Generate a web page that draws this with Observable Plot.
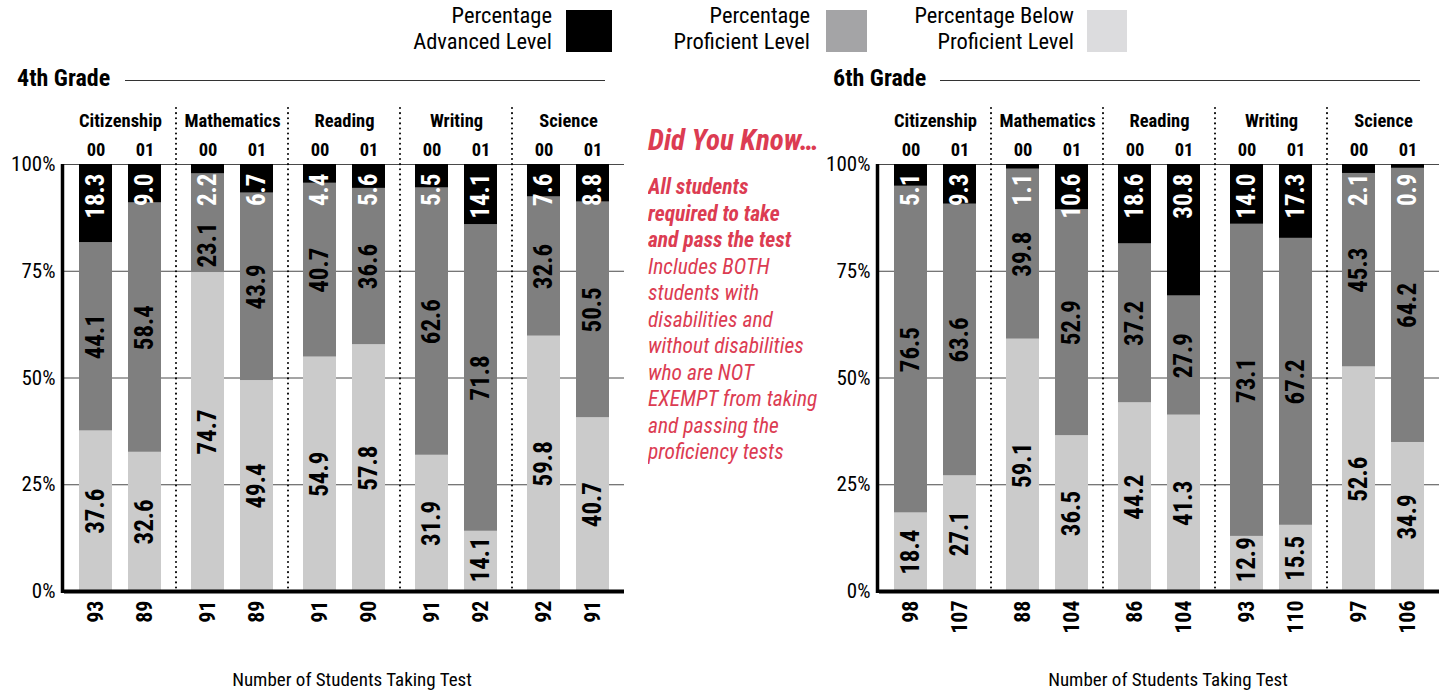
<!DOCTYPE html>
<html>
<head>
<meta charset="utf-8">
<script src="https://cdn.jsdelivr.net/npm/d3@7"></script>
<script src="https://cdn.jsdelivr.net/npm/@observablehq/plot@0.6"></script>
<style>
  html, body { margin: 0; padding: 0; background: #fff; }
  body { width: 1450px; height: 694px; overflow: hidden; position: relative;
         font-family: "Roboto Condensed", "Open Sans Condensed", "DejaVu Sans Condensed", sans-serif; color: #000; }
  .abs { position: absolute; }
  .leg { position: absolute; text-align: right; font-size: 22.5px; line-height: 26px; height: 26px; white-space: nowrap; }
  .sw { position: absolute; top: 10px; height: 42px; }
  .title { position: absolute; top: 64px; font-size: 24px; line-height: 28px; font-weight: bold; white-space: nowrap; }
  .tline { position: absolute; top: 80px; height: 1px; background: #333; }
  .red { color: #dc3c52; font-style: italic; white-space: nowrap; }
  .xlab { position: absolute; top: 668px; font-size: 19px; line-height: 24px; white-space: nowrap; transform: translateX(-50%); }
  .chart { position: absolute; top: 100px; }
</style>
</head>
<body>
<div class="leg" style="right:898px; top:2px;">Percentage</div>
<div class="leg" style="right:898px; top:28px;">Advanced Level</div>
<div class="sw" style="left:566px; width:46px; background:#000;"></div>
<div class="leg" style="right:640px; top:2px;">Percentage</div>
<div class="leg" style="right:640px; top:28px;">Proficient Level</div>
<div class="sw" style="left:826px; width:41px; background:#a4a4a6;"></div>
<div class="leg" style="right:376px; top:2px;">Percentage Below</div>
<div class="leg" style="right:376px; top:28px;">Proficient Level</div>
<div class="sw" style="left:1087px; width:40px; background:#dcdcde;"></div>

<div class="title" style="left:17px;">4th Grade</div>
<div class="tline" style="left:125px; width:480px;"></div>
<div class="title" style="left:833px;">6th Grade</div>
<div class="tline" style="left:940px; width:480px;"></div>

<div class="abs red" style="left:648px; top:122px; font-size:29px; line-height:36px; font-weight:bold;">Did You Know…</div>
<div class="abs red" style="left:648px; top:174px; width:174px; overflow:hidden; font-size:21.5px; line-height:26.5px;">
  <b>All students</b><br><b>required to take</b><br><b>and pass the test</b><br>Includes BOTH<br>students with<br>disabilities and<br>without disabilities<br>who are NOT<br>EXEMPT from taking<br>and passing the<br>proficiency tests
</div>

<div id="c4" class="chart" style="left:0px;"></div>
<div id="c6" class="chart" style="left:815px;"></div>

<div class="xlab" style="left:352px;">Number of Students Taking Test</div>
<div class="xlab" style="left:1168px;">Number of Students Taking Test</div>

<script>
const subjects = ["Citizenship", "Mathematics", "Reading", "Writing", "Science"];
const years = ["00", "01"];
const levels = ["Below Proficient", "Proficient", "Advanced"];
const levelColors = ["#cbcbcb", "#7f7f7f", "#000000"];
const yTicks = [0, 25, 50, 75, 100];

// 4th grade, order: Citizenship 00, 01, Mathematics 00, 01, ...
const grade4Advanced   = [18.3, 9.0, 2.2, 6.7, 4.4, 5.6, 5.5, 14.1, 7.6, 8.8];
const grade4Proficient = [44.1, 58.4, 23.1, 43.9, 40.7, 36.6, 62.6, 71.8, 32.6, 50.5];
const grade4Below      = [37.6, 32.6, 74.7, 49.4, 54.9, 57.8, 31.9, 14.1, 59.8, 40.7];
const grade4Counts     = [93, 89, 91, 89, 91, 90, 91, 92, 92, 91];

// 6th grade
const grade6Advanced   = [5.1, 9.3, 1.1, 10.6, 18.6, 30.8, 14.0, 17.3, 2.1, 0.9];
const grade6Proficient = [76.5, 63.6, 39.8, 52.9, 37.2, 27.9, 73.1, 67.2, 45.3, 64.2];
const grade6Below      = [18.4, 27.1, 59.1, 36.5, 44.2, 41.3, 12.9, 15.5, 52.6, 34.9];
const grade6Counts     = [98, 107, 88, 104, 86, 104, 93, 110, 97, 106];

const FONT = '"Roboto Condensed", "Open Sans Condensed", "DejaVu Sans Condensed", sans-serif';

function buildRows(adv, prof, below, counts) {
  return subjects.flatMap((s, si) => years.map((yr, yi) => {
    const i = si * 2 + yi;
    return {subject: s, year: yr, count: counts[i], below: below[i], prof: prof[i], adv: adv[i]};
  }));
}

function fmt(v) { return v.toFixed(1); }

function gradeChart(el, rows) {
  const segs = rows.flatMap(r => [
    {subject: r.subject, year: r.year, level: levels[0], y1: 0, y2: r.below},
    {subject: r.subject, year: r.year, level: levels[1], y1: r.below, y2: r.below + r.prof},
    {subject: r.subject, year: r.year, level: levels[2], y1: r.below + r.prof, y2: r.below + r.prof + r.adv}
  ]);
  // approximate label extents (in % units) to avoid label collisions
  const unitPx = 4.27;
  const textLen = t => (t.replace(".", "").length * 12 + 6) / unitPx;
  const advLabels = rows.map(r => ({...r, y: 100, text: fmt(r.adv)}));
  const profMid = [], profLow = [];
  rows.forEach(r => {
    const t = fmt(r.prof);
    const mid = r.below + r.prof / 2;
    const advExtent = (9 / unitPx) + textLen(fmt(r.adv));
    if (mid + textLen(t) / 2 + 1 > 100 - advExtent) profLow.push({...r, y: r.below, text: t});
    else profMid.push({...r, y: mid, text: t});
  });
  const belowLabels = rows.map(r => {
    const t = fmt(r.below);
    return {...r, y: Math.max(r.below / 2, textLen(t) / 2 + 2.5), text: t};
  });

  const valueFont = {fontFamily: FONT, fontSize: 25, fontWeight: "bold", rotate: -90, lineAnchor: "middle"};

  const chart = Plot.plot({
    width: 630,
    height: 594,
    marginLeft: 64,
    marginRight: 6,
    marginTop: 64,
    marginBottom: 103,
    fx: {domain: subjects, padding: 0, axis: null},
    x: {domain: years, paddingInner: 0.32, paddingOuter: 0.28, axis: null},
    y: {domain: [0, 100], axis: null},
    color: {domain: levels, range: levelColors},
    style: {fontFamily: FONT, background: "transparent", overflow: "visible"},
    marks: [
      Plot.ruleY(yTicks, {stroke: "#4a4a4a", strokeWidth: 1}),
      Plot.barY(segs, {fx: "subject", x: "year", y1: "y1", y2: "y2", fill: "level"}),
      Plot.ruleY([0], {stroke: "#000", strokeWidth: 4}),
      Plot.text(advLabels, {fx: "subject", x: "year", y: "y", text: "text", textAnchor: "end", dy: 9, fill: "#fff", ...valueFont}),
      Plot.text(profMid, {fx: "subject", x: "year", y: "y", text: "text", textAnchor: "middle", fill: "#000", ...valueFont}),
      Plot.text(profLow, {fx: "subject", x: "year", y: "y", text: "text", textAnchor: "start", dy: -5, fill: "#000", ...valueFont}),
      Plot.text(belowLabels, {fx: "subject", x: "year", y: "y", text: "text", textAnchor: "middle", fill: "#000", ...valueFont}),
      Plot.text(yTicks, {fx: () => subjects[0], y: d => d, text: d => `${d}%`, frameAnchor: "left", textAnchor: "end", lineAnchor: "middle", dx: -9, fontSize: 21, fontFamily: FONT, fill: "#000"}),
      Plot.text(subjects, {fx: d => d, text: d => d, frameAnchor: "top", lineAnchor: "middle", dy: -43, fontSize: 18.5, fontWeight: "bold", fontFamily: FONT, fill: "#000"}),
      Plot.text(rows, {fx: "subject", x: "year", text: "year", frameAnchor: "top", lineAnchor: "middle", dy: -14, fontSize: 18.5, fontWeight: "bold", fontFamily: FONT, fill: "#000"}),
      Plot.text(rows, {fx: "subject", x: "year", text: d => String(d.count), frameAnchor: "bottom", lineAnchor: "middle", dy: 9, textAnchor: "end", rotate: -90, fontSize: 22, fontWeight: "bold", fontFamily: FONT, fill: "#000"})
    ]
  });

  // vertical axis line and dotted subject separators, positioned by the plot's own scales
  const svg = d3.select(chart.tagName.toLowerCase() === "svg" ? chart : chart.querySelector("svg"));
  const ys = chart.scale("y");
  const y0 = ys.apply(0), y100 = ys.apply(100);
  let fxApply;
  try {
    const fxs = chart.scale("fx");
    fxApply = s => fxs.apply(s);
  } catch (e) {
    fxApply = s => 64 + subjects.indexOf(s) * (560 / subjects.length);
  }
  svg.append("line")
    .attr("x1", 62.5).attr("x2", 62.5)
    .attr("y1", y100).attr("y2", y0 + 2)
    .attr("stroke", "#000").attr("stroke-width", 3.5);
  subjects.slice(1).forEach(s => {
    const x = fxApply(s);
    svg.append("line")
      .attr("x1", x).attr("x2", x)
      .attr("y1", 8).attr("y2", y0 - 2)
      .attr("stroke", "#000").attr("stroke-width", 2)
      .attr("stroke-dasharray", "0.1 5").attr("stroke-linecap", "round");
  });
  el.appendChild(chart);
}

gradeChart(document.getElementById("c4"), buildRows(grade4Advanced, grade4Proficient, grade4Below, grade4Counts));
gradeChart(document.getElementById("c6"), buildRows(grade6Advanced, grade6Proficient, grade6Below, grade6Counts));
</script>
</body>
</html>
